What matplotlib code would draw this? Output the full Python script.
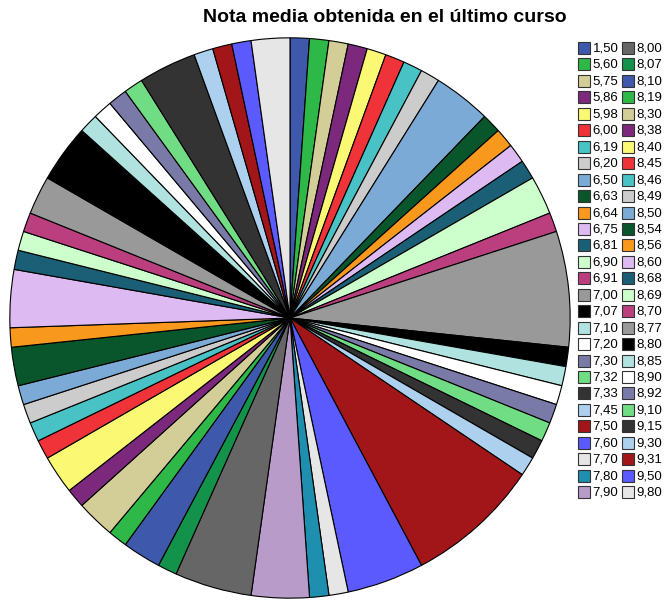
import matplotlib
matplotlib.use("Agg")
import matplotlib.pyplot as plt
from matplotlib.patches import Rectangle

plt.rcParams["font.family"] = ["Liberation Sans", "DejaVu Sans"]

notas = [
    "1,50", "5,60", "5,75", "5,86", "5,98", "6,00", "6,19", "6,20", "6,50",
    "6,63", "6,64", "6,75", "6,81", "6,90", "6,91", "7,00", "7,07", "7,10",
    "7,20", "7,30", "7,32", "7,33", "7,45", "7,50", "7,60", "7,70", "7,80",
    "7,90", "8,00", "8,07", "8,10", "8,19", "8,30", "8,38", "8,40", "8,45",
    "8,46", "8,49", "8,50", "8,54", "8,56", "8,60", "8,68", "8,69", "8,70",
    "8,77", "8,80", "8,85", "8,90", "8,92", "9,10", "9,15", "9,30", "9,31",
    "9,50", "9,80",
]
frecuencias = [
    1, 1, 1, 1, 1, 1, 1, 1, 3,
    1, 1, 1, 1, 2, 1, 6, 1, 1,
    1, 1, 1, 1, 1, 7, 4, 1, 1,
    3, 4, 1, 2, 1, 2, 1, 2, 1,
    1, 1, 1, 2, 1, 3, 1, 1, 1,
    2, 3, 1, 1, 1, 1, 3, 1, 1,
    1, 2,
]

# SPSS default palette
paleta = [
    "#3E58AC", "#2EB848", "#D3CE97", "#7C287D", "#FBF873", "#EF3338",
    "#48C2C5", "#CCCCCC", "#7AAAD5", "#0A562C", "#F8981D", "#DDBAF1",
    "#1A5F76", "#CCFFCC", "#BB3F7F", "#999999", "#000000", "#B0E2E0",
    "#FFFFFF", "#797AA8", "#70DC84", "#333333", "#ACD0EE", "#A21619",
    "#5A5AFF", "#E6E6E6", "#1F8FAF", "#B89BC9", "#666666", "#12924A",
]
colores = [paleta[i % len(paleta)] for i in range(len(notas))]

W, H = 664, 600
fig = plt.figure(figsize=(W / 100, H / 100), dpi=100)

# pie area: center (290, 318), radius ~281 px
ax = fig.add_axes([(290 - 281) / W, (H - 318 - 281) / H, 562 / W, 562 / H])
ax.pie(frecuencias, colors=colores, startangle=90, counterclock=False,
       wedgeprops=dict(edgecolor="black", linewidth=0.8))
ax.set_xlim(-1.003, 1.003)
ax.set_ylim(-1.003, 1.003)
ax.set_aspect("equal")
ax.axis("off")

fig.text(385 / W, 1 - 18 / H, "Nota media obtenida en el último curso",
         ha="center", va="center", fontsize=14, fontweight="bold")

# legend, two columns of 28
filas = 28
for i, (lab, col) in enumerate(zip(notas, colores)):
    c, r = divmod(i, filas)
    y = 48 + r * 16.45
    x0 = 578 + c * 44
    fig.add_artist(Rectangle((x0 / W, 1 - (y + 6) / H), 12 / W, 12 / H,
                             transform=fig.transFigure, facecolor=col,
                             edgecolor="#333333", linewidth=0.8))
    fig.text((x0 + 14.5) / W, 1 - (y + 0.5) / H, lab, ha="left", va="center",
             fontsize=9.5,
             family=["Liberation Sans Narrow", "Liberation Sans"])

fig.savefig("out.png", dpi=100)
